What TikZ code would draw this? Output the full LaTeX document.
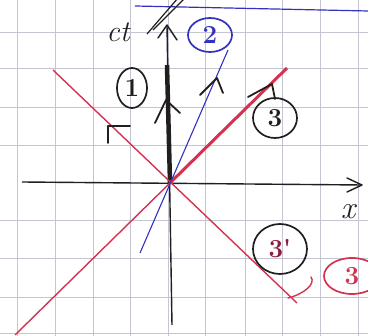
\documentclass[tikz,border=0pt]{standalone}
\usepackage{fontspec}
\usetikzlibrary{shapes.geometric}
\definecolor{penred}{RGB}{212,50,80}
\definecolor{penblue}{RGB}{50,50,190}
\definecolor{penblack}{RGB}{35,30,30}
\definecolor{darkred}{RGB}{140,30,60}
\definecolor{gridgray}{RGB}{195,197,210}
\begin{document}
\begin{tikzpicture}[x=1pt,y=-1pt,
	tag/.style={ellipse,draw,line width=1.7pt,inner sep=0pt,font=\fontsize{26}{26}\selectfont\bfseries},
	chev/.style={penblack,line width=1.8pt,line cap=round,line join=round}]
	\useasboundingbox (0,0) rectangle (368,336);
	\clip (0,0) rectangle (368,336);
	% squared paper
	\foreach \gx in {17,55,93,130,168,205,245,282,320,358}
		\draw[gridgray,line width=0.8pt](\gx,0)--(\gx,336);
	\foreach \gy in {32,68,107,145,220,258,297,333}
		\draw[gridgray,line width=0.8pt](0,\gy)--(368,\gy);
	% scribbles at the top
	\draw[penblue,line width=1.2pt](135,6)--(368,11);
	\draw[penblack,line width=1.2pt](147,34)--(178,-2);
	\draw[penblack,line width=1.2pt](153,30)--(185,-2);
	% points
	\coordinate (O) at (170,183);
	\coordinate (xl) at (22,182);
	\coordinate (xr) at (362,185);
	\coordinate (tb) at (172,325);
	\coordinate (tt) at (167,25);
	\coordinate (tk) at (167,65);
	\coordinate (ra) at (15,335);
	\coordinate (rb) at (287,68);
	\coordinate (la) at (53,70);
	\coordinate (lb) at (297,303);
	\coordinate (ba) at (140,253);
	\coordinate (bb) at (228,50);
	% axes
	\draw[penblack,line width=1.4pt](xl)--(xr);
	\draw[penblack,line width=1.4pt](tb)--(tt);
	\draw[penblack,line width=4.5pt](tk)--(O);
	% light lines and worldline 2
	\draw[penred,line width=1.4pt](ra)--(O);
	\draw[penred,line width=3pt](O)--(rb);
	\draw[penred,line width=1.4pt](la)--(lb);
	\draw[penblue,line width=1.1pt](ba)--(bb);
	% arrowheads
	\draw[chev,line width=1.4pt](347,178)--(xr)--(347,192);
	\draw[chev,line width=1.4pt](158,38)--(tt)--(177,40);
	\draw[chev](155,123)--(166,100)--(180,113);
	\draw[chev](200,95)--(217,78)--(223,93);
	\draw[chev](248,97)--(272,84)--(275,99);
	\draw[chev](130,126)--(108,126)--(108,143);
	% labels
	\node[font=\fontsize{30}{30}\selectfont\itshape,text=penblack](ct) at (118,32){ct};
	\node[font=\fontsize{32}{32}\selectfont\itshape,text=penblack](x) at (348,212){x};
	\node[tag,penblack,minimum width=30pt,minimum height=40pt](n1) at (132,88){1};
	\node[tag,penblue,minimum width=44pt,minimum height=34pt](n2) at (210,35){2};
	\node[tag,penblack,minimum width=44pt,minimum height=40pt](n3) at (275,118){3};
	\node[tag,penblack,text=darkred,minimum width=54pt,minimum height=50pt](n3p) at (280,249){3\textquotesingle};
	\node[tag,penred,minimum width=56pt,minimum height=36pt](n3r) at (352,276){3};
	\draw[penred,line width=1.4pt,line cap=round](311,277) .. controls (316,284) and (304,294) .. (288,298);
\end{tikzpicture}
\end{document}
